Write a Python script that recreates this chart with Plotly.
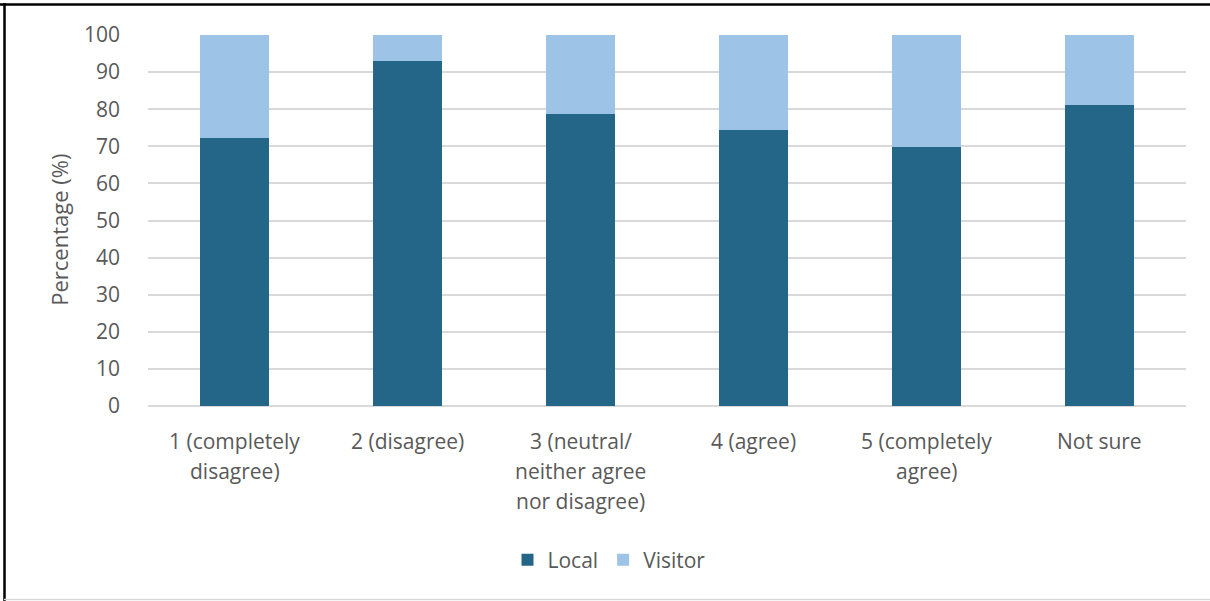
import plotly.graph_objects as go

categories = ["1 (completely<br>disagree)", "2 (disagree)", "3 (neutral/<br>neither agree<br>nor disagree)",
              "4 (agree)", "5 (completely<br>agree)", "Not sure"]
local = [72.2, 93.0, 78.8, 74.3, 69.7, 81.2]
visitor = [round(100 - v, 1) for v in local]
y_ticks = [0, 10, 20, 30, 40, 50, 60, 70, 80, 90, 100]

FONT = "Segoe UI, Open Sans, sans-serif"
GREY = "#595959"

fig = go.Figure()
fig.add_trace(go.Bar(x=categories, y=local, name="Local", marker=dict(color="#236688", line=dict(width=0))))
fig.add_trace(go.Bar(x=categories, y=visitor, name="Visitor", marker=dict(color="#9DC3E6", line=dict(width=0))))

W, H = 1210, 601
L, R, T, B = 148, 24, 35, 195
pw, ph = W - L - R, H - T - B

def px(x):
    return (x - L) / pw

def py(y):
    return (H - B - y) / ph

# category labels, one annotation per text line (Excel-like line spacing)
label_annotations = []
for cat in categories:
    for i, line in enumerate(cat.split("<br>")):
        label_annotations.append(dict(
            text=line, x=cat, xref="x", y=py(441 + 30 * i), yref="paper",
            showarrow=False, xanchor="center", yanchor="middle",
            font=dict(size=21, color=GREY)))

fig.update_layout(
    width=W, height=H,
    barmode="stack", bargap=0.6,
    plot_bgcolor="white", paper_bgcolor="white",
    margin=dict(l=L, r=R, t=T, b=B, autoexpand=False),
    font=dict(family=FONT, color=GREY, size=21),
    showlegend=True,
    legend=dict(orientation="h", x=px(609), xanchor="center", y=py(560), yanchor="middle",
                font=dict(size=21, color=GREY), traceorder="normal", itemwidth=30),
    xaxis=dict(showgrid=False, showline=False, ticks="", showticklabels=False),
    yaxis=dict(range=[0, 100], tickvals=y_ticks, showgrid=True, gridcolor="#D9D9D9", gridwidth=1.5,
               zeroline=True, zerolinecolor="#D9D9D9", zerolinewidth=1.5, showline=False, ticks="",
               tickfont=dict(size=21, color=GREY), ticklabelstandoff=27),
    annotations=[dict(text="Percentage (%)", x=px(59), y=0.475, xref="paper", yref="paper",
                      textangle=-90, showarrow=False, font=dict(size=22, color=GREY),
                      xanchor="center", yanchor="middle")] + label_annotations,
    shapes=[
        dict(type="line", xref="paper", yref="paper", x0=px(0), x1=px(W), y0=py(4.5), y1=py(4.5),
             line=dict(color="black", width=2.5)),
        dict(type="line", xref="paper", yref="paper", x0=px(4.5), x1=px(4.5), y0=py(3), y1=py(H),
             line=dict(color="black", width=2.5)),
        dict(type="line", xref="paper", yref="paper", x0=px(4), x1=px(W), y0=py(599.5), y1=py(599.5),
             line=dict(color="#D9D9D9", width=1.5)),
    ],
)

fig.write_html("out.html", config={"displayModeBar": False},
               post_script="document.body.style.margin='0';document.body.style.overflow='hidden';")
